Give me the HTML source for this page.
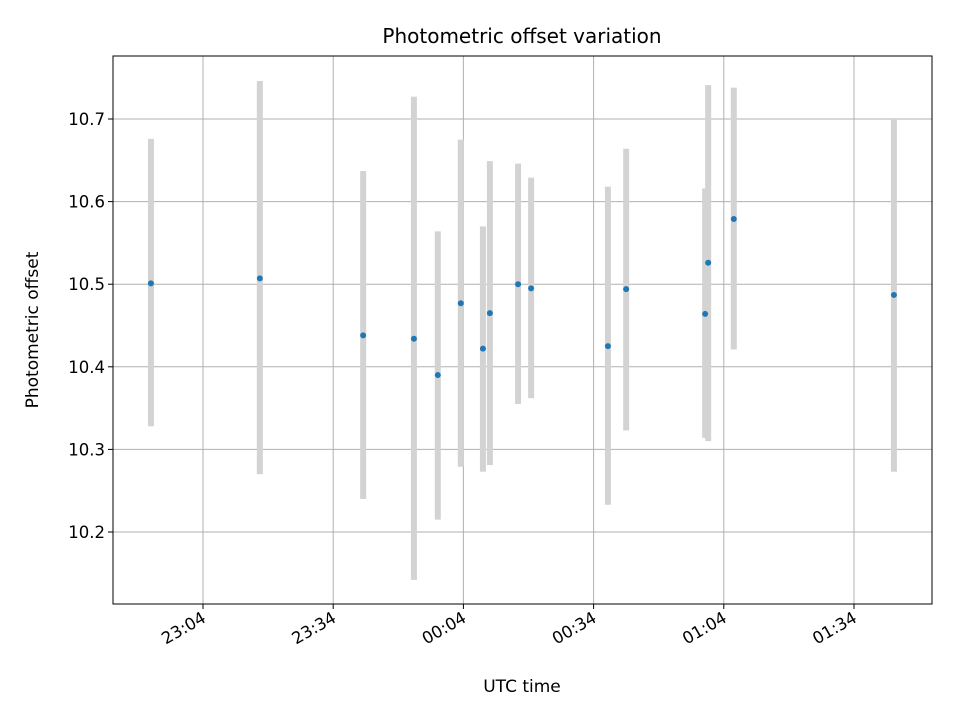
<!DOCTYPE html>
<html><head><meta charset="utf-8"><style>
html,body{margin:0;padding:0;background:#fff;}
svg text{font-family:"DejaVu Sans","Liberation Sans",sans-serif;}
</style></head><body>
<svg id="chart" width="960" height="720" xmlns="http://www.w3.org/2000/svg">
<rect width="960" height="720" fill="#fff"/>
<text x="522" y="43" font-size="20" text-anchor="middle">Photometric offset variation</text>
<text x="522" y="692" font-size="17" text-anchor="middle">UTC time</text>
<text transform="translate(38,330) rotate(-90)" font-size="17" text-anchor="middle">Photometric offset</text>
<g id="grid"></g>
<g id="bars"></g>
<g id="dots"></g>
<rect x="113" y="56" width="819" height="548" fill="none" stroke="#000" stroke-width="1"/>
<g id="ticks"></g>
</svg>
<script>
// minutes relative to 23:04 UTC
const times = [-12.0, 13.1, 36.9, 48.6, 54.1, 59.4, 64.5, 66.1, 72.6, 75.6, 93.3, 97.5, 115.7, 116.4, 122.3, 159.2];
const offsets = [10.501, 10.507, 10.438, 10.434, 10.390, 10.477, 10.422, 10.465, 10.500, 10.495, 10.425, 10.494, 10.464, 10.526, 10.579, 10.487];
const errHigh = [10.676, 10.746, 10.637, 10.727, 10.564, 10.675, 10.570, 10.649, 10.646, 10.629, 10.618, 10.664, 10.616, 10.741, 10.738, 10.700];
const errLow = [10.328, 10.270, 10.240, 10.142, 10.215, 10.279, 10.273, 10.281, 10.355, 10.362, 10.233, 10.323, 10.314, 10.310, 10.421, 10.273];
const xTickMinutes = [0, 30, 60, 90, 120, 150];
const xTickLabels = ["23:04", "23:34", "00:04", "00:34", "01:04", "01:34"];
const yTicks = [10.2, 10.3, 10.4, 10.5, 10.6, 10.7];

const L=113,R=932,T=56,B=604;
const xs = m => 203 + m*(130.2/30);
const ys = v => 119 + (10.7 - v)*826;
const NS="http://www.w3.org/2000/svg";
function mk(tag, attrs, parent){const e=document.createElementNS(NS,tag);for(const k in attrs)e.setAttribute(k,attrs[k]);document.getElementById(parent).appendChild(e);return e;}

xTickMinutes.forEach((m,i)=>{
  const x=xs(m);
  const g=mk('line',{x1:x,x2:x,y1:T,y2:B,stroke:'#b0b0b0','stroke-width':1},'grid');
  
  
  const t=mk('line',{x1:x,x2:x,y1:B,y2:B+5,stroke:'#000'},'ticks');
  
  
  const tx=mk('text',{'font-size':16.5,'text-anchor':'end',transform:`translate(${x+4},${B+17}) rotate(-30)`},'ticks');
  tx.textContent=xTickLabels[i];
  
  
});
yTicks.forEach(v=>{
  const y=ys(v);
  const g=mk('line',{x1:L,x2:R,y1:y,y2:y,stroke:'#b0b0b0','stroke-width':1},'grid');
  
  
  const t=mk('line',{x1:L-5,x2:L,y1:y,y2:y,stroke:'#000'},'ticks');
  
  
  const tx=mk('text',{x:L-8,y:y+6,'font-size':16.5,'text-anchor':'end'},'ticks');
  tx.textContent=v.toFixed(1);
  
  
});
times.forEach((m,i)=>{
  const x=xs(m);
  const b=mk('rect',{x:x-3,y:ys(errHigh[i]),width:6,height:ys(errLow[i])-ys(errHigh[i]),fill:'#d3d3d3'},'bars');
  
  
});
times.forEach((m,i)=>{
  const c=mk('circle',{cx:xs(m),cy:ys(offsets[i]),r:3,fill:'#1f77b4'},'dots');
  
  
});
</script>
</body></html>
